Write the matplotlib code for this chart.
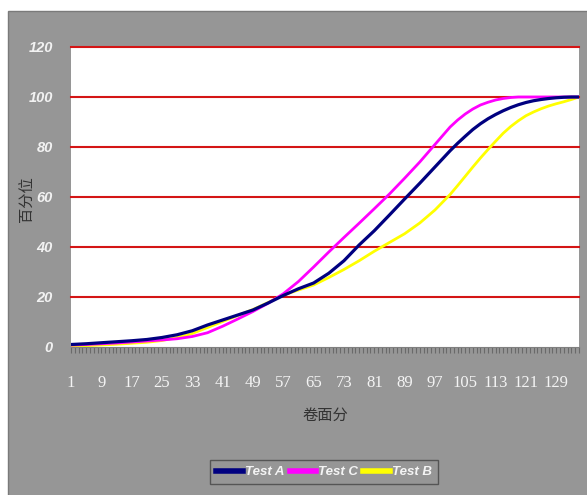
import matplotlib
matplotlib.use("Agg")
import matplotlib.pyplot as plt
from matplotlib.patches import Rectangle

# ---- data ----
scores = [1, 5, 9, 13, 17, 21, 25, 29, 33, 37, 41, 45, 49, 53, 57, 61, 65, 69,
          73, 77, 81, 85, 89, 93, 97, 101, 103, 105, 107, 109, 111, 113, 115, 117,
          119, 121, 123, 125, 127, 129, 131, 133, 135]
test_a = [1.0, 1.3, 1.7, 2.1, 2.5, 3.0, 3.8, 4.9, 6.5, 8.8, 10.8, 12.8, 14.8, 17.6,
          20.6, 23.3, 25.6, 29.5, 34.5, 40.8, 46.5, 52.8, 59.2, 65.5, 72.0,
          78.5, 81.5, 84.3, 87.0, 89.3, 91.3, 93.0, 94.5, 95.8, 96.9, 97.8, 98.5,
          99.0, 99.4, 99.7, 99.9, 100.0, 100.0]
test_c = [0.8, 1.0, 1.3, 1.6, 2.0, 2.4, 2.8, 3.3, 4.2, 5.7, 8.3, 11.2, 14.2, 17.5,
          21.3, 26.2, 32.0, 38.0, 43.8, 49.5, 55.3, 61.2, 67.5, 74.0, 81.0,
          88.0, 90.8, 93.2, 95.2, 96.8, 97.9, 98.8, 99.4, 99.8, 100.0, 100.0, 100.0,
          100.0, 100.0, 100.0, 100.0, 100.0, 100.0]
test_b = [0.3, 0.5, 0.8, 1.1, 1.5, 1.9, 2.6, 3.8, 5.4, 7.8, 10.2, 12.6, 15.0, 17.8,
          20.8, 22.8, 24.8, 27.8, 31.0, 34.5, 38.3, 41.8, 45.3, 49.6, 54.8,
          61.0, 64.6, 68.3, 72.0, 75.6, 79.0, 82.3, 85.5, 88.2, 90.5, 92.5, 94.0,
          95.3, 96.4, 97.3, 98.1, 99.0, 100.0]
x_tick_labels = [str(v) for v in range(1, 130, 8)]
y_ticks = [0, 20, 40, 60, 80, 100, 120]

GRAY = "#969696"
W, H = 587, 495
fig = plt.figure(figsize=(W / 100, H / 100), dpi=100)
fig.patch.set_facecolor("white")
# gray chart area
bg = Rectangle((8 / W, -0.01), 1 - 8 / W + 0.01, (H - 11) / H + 0.01,
               transform=fig.transFigure, facecolor=GRAY,
               edgecolor="#7a7a7a", linewidth=1.0, zorder=-10)
fig.add_artist(bg)

ax = fig.add_axes([71 / W, 1 - 347 / H, (579 - 71) / W, (347 - 47) / H], zorder=1)
ax.set_facecolor("white")

for yv in y_ticks[1:]:
    ax.axhline(yv, color="#d41515", linewidth=1.5, zorder=1, clip_on=False)

ax.plot(scores, test_a, color="#000080", linewidth=2.3, label="Test A", zorder=4)
ax.plot(scores, test_c, color="#ff00ff", linewidth=2.0, label="Test C", zorder=3)
ax.plot(scores, test_b, color="#ffff00", linewidth=2.0, label="Test B", zorder=2)

ax.set_xlim(1, 135)
ax.set_ylim(0, 120)
for s in ["top", "left", "right"]:
    ax.spines[s].set_visible(False)
ax.spines["bottom"].set_color("#808080")

ax.set_xticks([int(v) for v in x_tick_labels])
ax.set_xticklabels(x_tick_labels, fontfamily=["Liberation Serif", "DejaVu Serif"],
                   fontsize=12, color="#f4f4f4")
ax.set_xticks(list(range(1, 136)), minor=True)
ax.tick_params(axis="x", which="both", direction="out", length=4, width=0.8,
               color="#6a6a6a", pad=16)

ax.set_yticks(y_ticks)
ax.set_yticklabels([str(v) for v in y_ticks],
                   fontfamily=["Liberation Sans", "DejaVu Sans"],
                   fontsize=10.5, fontstyle="italic", fontweight="bold", color="#f2f2f2")
ax.tick_params(axis="y", which="both", length=0, pad=13)

fig.text(325 / W, 1 - 415 / H, "卷面分", fontfamily=["Noto Sans CJK SC", "DejaVu Sans"],
         fontsize=11, color="#333333", ha="center", va="center")
fig.text(27 / W, 1 - 199 / H, "百分位", fontfamily=["Noto Sans CJK SC", "DejaVu Sans"],
         fontsize=11, color="#333333", ha="center", va="center", rotation=90)

leg = fig.legend(loc="center", bbox_to_anchor=(324 / W, 1 - 472 / H),
                 ncol=3, frameon=True, fancybox=False, handlelength=2.0,
                 handletextpad=0.15, columnspacing=0.4, borderpad=0.45,
                 prop={"family": ["Liberation Sans", "DejaVu Sans"],
                       "style": "italic", "weight": "bold", "size": 9.5})
leg.get_frame().set_facecolor(GRAY)
leg.get_frame().set_edgecolor("#555555")
leg.get_frame().set_linewidth(1.0)
leg.get_frame().set_alpha(1)
for t in leg.get_texts():
    t.set_color("#f4f4f4")
for h in leg.get_lines():
    h.set_linewidth(4)

fig.savefig("out.png", dpi=100, facecolor=fig.get_facecolor())
